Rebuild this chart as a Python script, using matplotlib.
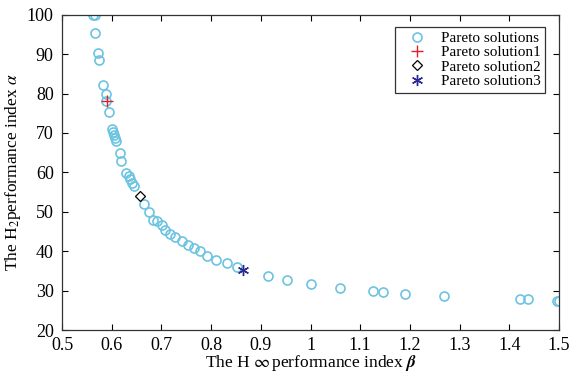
import matplotlib
matplotlib.use('Agg')
from matplotlib import pyplot as plt
import numpy as np

plt.rcParams['font.family'] = ['Liberation Serif', 'DejaVu Serif']
plt.rcParams['mathtext.fontset'] = 'stix'

# Pareto front (beta = H-infinity index, alpha = H2 index)
beta = [0.562, 0.567, 0.566, 0.572, 0.574, 0.582, 0.588, 0.588, 0.594, 0.600,
        0.602, 0.604, 0.606, 0.608, 0.616, 0.619, 0.629, 0.634, 0.637, 0.641,
        0.644, 0.664, 0.676, 0.683, 0.691, 0.701, 0.708, 0.718, 0.728, 0.741,
        0.753, 0.765, 0.777, 0.792, 0.810, 0.831, 0.852, 0.914, 0.953, 1.001,
        1.060, 1.125, 1.146, 1.191, 1.268, 1.422, 1.437, 1.495, 1.499]
alpha = [100.0, 100.0, 95.3, 90.4, 88.4, 82.2, 80.0, 78.2, 75.2, 71.0,
         70.2, 69.4, 68.6, 68.0, 65.0, 63.0, 59.9, 59.0, 58.2, 57.4,
         56.5, 52.0, 50.0, 47.9, 47.7, 46.6, 45.5, 44.5, 43.5, 42.6,
         41.5, 40.8, 40.0, 38.8, 37.9, 36.9, 35.9, 33.7, 32.7, 31.7,
         30.6, 29.8, 29.7, 29.2, 28.7, 27.9, 27.9, 27.5, 27.5]

sol1 = (0.590, 78.2)
sol2 = (0.657, 54.0)
sol3 = (0.864, 35.3)

fig = plt.figure(figsize=(5.71, 3.76), dpi=100)
ax = fig.add_axes([0.1086, 0.122, 0.8704, 0.839])

ax.plot(beta, alpha, 'o', ls='none', ms=6.5, mfc='none', mec='#6cc4e0', mew=1.2,
        label='Pareto solutions')
ax.plot(*sol1, '+', color='#e0202a', ms=8, mew=1.0, label='Pareto solution1')
ax.plot(*sol2, 'D', mfc='none', mec='black', ms=5.5, mew=0.9, label='Pareto solution2')
ax.plot(*sol3, marker=(6, 2, 0), color='#2a2a90', ls='none', ms=8, mew=1.0,
        label='Pareto solution3')

ax.set_xlim(0.5, 1.5)
ax.set_ylim(20, 100)
ax.set_xticks(np.arange(0.5, 1.51, 0.1))
ax.set_xticklabels(['0.5', '0.6', '0.7', '0.8', '0.9', '1', '1.1', '1.2', '1.3', '1.4', '1.5'])
ax.set_yticks(np.arange(20, 101, 10))
ax.tick_params(direction='in', top=True, right=True, labelsize=13, length=4, width=0.8)
ax.tick_params(axis='y', pad=6)
ax.tick_params(axis='x', pad=5)
for s in ax.spines.values():
    s.set_linewidth(0.9)
    s.set_color('#333333')

ax.set_xlabel(r'The H $\infty\,$performance index $\boldsymbol{\beta}$', fontsize=12.5, labelpad=-1)
ax.set_ylabel(r'The H$_2$performance index $\alpha$', fontsize=12.5, labelpad=3)

leg = ax.legend(loc='upper right', bbox_to_anchor=(0.972, 0.962), fontsize=11,
                frameon=True, fancybox=False, edgecolor='black', handlelength=2.3,
                borderpad=0.3, labelspacing=0.05, handletextpad=0.4, borderaxespad=0)
leg.get_frame().set_linewidth(0.9)

fig.savefig('out.png', dpi=100)
